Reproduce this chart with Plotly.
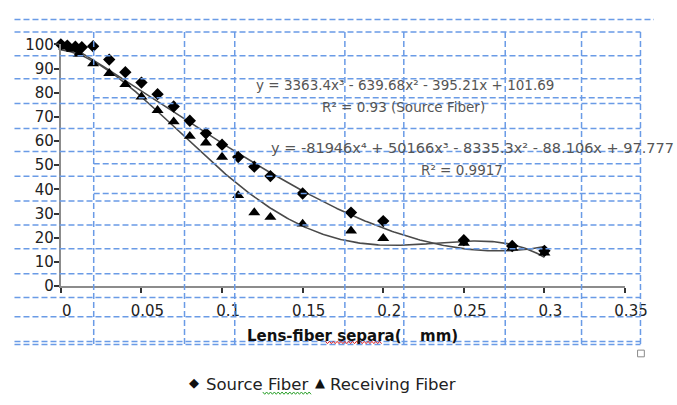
import numpy as np
import plotly.graph_objects as go

W, H = 677, 405

# Measured coupling (%) versus lens-fiber separation (mm)
source_x = [0, 0.004, 0.009, 0.013, 0.02, 0.03, 0.04, 0.05, 0.06, 0.07, 0.08, 0.09,
            0.1, 0.11, 0.12, 0.13, 0.15, 0.18, 0.2, 0.25, 0.28, 0.3]
source_y = [100, 99.5, 99, 98.8, 99.2, 93.7, 88.5, 84.2, 79.4, 74.3, 68.4, 63.2,
            58.5, 53.4, 49.4, 45.5, 38.3, 30.4, 26.9, 19.0, 16.6, 14.6]

recv_x = [0.002, 0.007, 0.011, 0.02, 0.03, 0.04, 0.05, 0.06, 0.07, 0.08, 0.09,
          0.1, 0.11, 0.12, 0.13, 0.15, 0.18, 0.2, 0.25, 0.28, 0.3]
recv_y = [99, 98, 96, 92, 88, 83.4, 78.3, 72.7, 68, 62, 59.3,
          53.4, 37.5, 30.4, 28.5, 25.7, 22.9, 19.8, 17.8, 15.8, 13.8]

# Polynomial trendline coefficients (highest power first)
source_fit = [3363.4, -639.68, -395.21, 101.69]
recv_fit = [-81946, 50166, -8335.3, -88.106, 97.777]

x_ticks = [0, 0.05, 0.1, 0.15, 0.2, 0.25, 0.3, 0.35]
x_tick_labels = ["0", "0.05", "0.1", "0.15", "0.2", "0.25", "0.3", "0.35"]
y_ticks = list(range(0, 101, 10))


def px(x):
    return x / W


def py(y):
    return 1 - y / H


fig = go.Figure()

fit_x = np.linspace(0, 0.3, 300)
for coef in (source_fit, recv_fit):
    fig.add_trace(go.Scatter(x=fit_x, y=np.polyval(coef, fit_x), mode="lines",
                             line=dict(color="#4a4a4a", width=1.6),
                             hoverinfo="skip", showlegend=False))

fig.add_trace(go.Scatter(x=source_x, y=source_y, mode="markers", name="Source Fiber",
                         marker=dict(symbol="diamond", size=9.5, color="black"),
                         cliponaxis=False, showlegend=False))
fig.add_trace(go.Scatter(x=recv_x, y=recv_y, mode="markers", name="Receiving Fiber",
                         marker=dict(symbol="triangle-up", size=10.5, color="black"),
                         cliponaxis=False, showlegend=False))

# Dashed blue table borders laid over the chart
blue = "#6a9be6"
dash = "6px,3px"
shapes = []
shapes.append(dict(type="line", xref="paper", yref="paper", x0=px(15), x1=px(677),
                   y0=py(11), y1=py(11), line=dict(color=blue, width=1.5, dash=dash)))
for yy in [24, 49, 73, 99, 125, 149, 175, 201, 226, 251, 277, 302, 322, 348, 351]:
    shapes.append(dict(type="line", xref="paper", yref="paper", x0=px(15), x1=px(663),
                       y0=py(yy), y1=py(yy), line=dict(color=blue, width=1.5, dash=dash)))
for yy in [93, 162, 193]:
    shapes.append(dict(type="line", xref="paper", yref="paper", x0=px(97), x1=px(663),
                       y0=py(yy), y1=py(yy), line=dict(color=blue, width=1.5, dash=dash)))
for xx in [97, 191, 243, 357, 418, 523, 602, 663]:
    shapes.append(dict(type="line", xref="paper", yref="paper", x0=px(xx), x1=px(xx),
                       y0=py(24), y1=py(351), line=dict(color=blue, width=1.5, dash=dash)))
for s in shapes:
    s["layer"] = "above"

# Resize handle
shapes.append(dict(type="rect", xref="paper", yref="paper", x0=px(660), x1=px(667),
                   y0=py(357), y1=py(364), line=dict(color="#8a8a8a", width=1),
                   fillcolor="white", layer="above"))


def squiggle(x0, x1, y, color):
    pts = []
    x = x0
    up = True
    while x <= x1:
        pts.append((px(x), py(y - 1.2 if up else y + 1.2)))
        up = not up
        x += 2
    d = "M " + " L ".join(f"{a:.5f},{b:.5f}" for a, b in pts)
    return dict(type="path", xref="paper", yref="paper", path=d,
                line=dict(color=color, width=1), layer="above")


shapes.append(squiggle(337, 395, 349, "#e02020"))
shapes.append(squiggle(272, 322, 402, "#2aa02a"))

eq_font = dict(family="DejaVu Sans", size=13.5, color="#555555")
eq_font_wide = dict(family="DejaVu Sans", size=14.5, color="#555555")
title_font = dict(family="DejaVu Sans", size=15, color="#111111")
legend_font = dict(family="DejaVu Sans", size=16.5, color="#222222")
glyph_font = dict(family="DejaVu Sans", size=13, color="#111111")
annotations = [
    dict(text="y = 3363.4x³ - 639.68x² - 395.21x + 101.69", x=px(419), y=py(80),
         xanchor="center", yanchor="middle", font=eq_font),
    dict(text="R² = 0.93 (Source Fiber)", x=px(418), y=py(103),
         xanchor="center", yanchor="middle", font=eq_font),
    dict(text="y = -81946x⁴ + 50166x³ - 8335.3x² - 88.106x + 97.777", x=px(278), y=py(145),
         xanchor="left", yanchor="middle", font=eq_font_wide),
    dict(text="R² = 0.9917", x=px(478), y=py(168),
         xanchor="center", yanchor="middle", font=eq_font),
    dict(text="<b>Lens-fiber separa(</b>", x=px(254), y=py(342),
         xanchor="left", yanchor="middle", font=title_font),
    dict(text="<b>mm)</b>", x=px(433), y=py(342),
         xanchor="left", yanchor="middle", font=title_font),
    dict(text="◆", x=px(201), y=py(391), xanchor="center", yanchor="middle", font=glyph_font),
    dict(text="Source Fiber", x=px(211), y=py(393),
         xanchor="left", yanchor="middle", font=legend_font),
    dict(text="▲", x=px(331), y=py(391), xanchor="center", yanchor="middle", font=glyph_font),
    dict(text="Receiving Fiber", x=px(340), y=py(393),
         xanchor="left", yanchor="middle", font=legend_font),
]
for a in annotations:
    a.update(xref="paper", yref="paper", showarrow=False)

axis_common = dict(showline=True, linecolor="#8c8c8c", linewidth=2,
                   ticks="outside", ticklen=5, tickwidth=2, tickcolor="#333333",
                   showgrid=False, zeroline=False,
                   tickfont=dict(family="DejaVu Sans", size=15, color="#222222"))

fig.update_layout(
    width=W, height=H,
    margin=dict(l=0, r=0, t=0, b=0),
    paper_bgcolor="white", plot_bgcolor="white",
    xaxis=dict(domain=[px(63), px(647)], range=[0, 0.35], tickvals=x_ticks,
               ticktext=x_tick_labels, ticklabelshift=6, ticklabelstandoff=5,
               **axis_common),
    yaxis=dict(domain=[py(290), py(37)], range=[0, 100], tickvals=y_ticks,
               ticklabelstandoff=-3, **axis_common),
    shapes=shapes,
    annotations=annotations,
    showlegend=False,
)

fig.write_html("out.html")
